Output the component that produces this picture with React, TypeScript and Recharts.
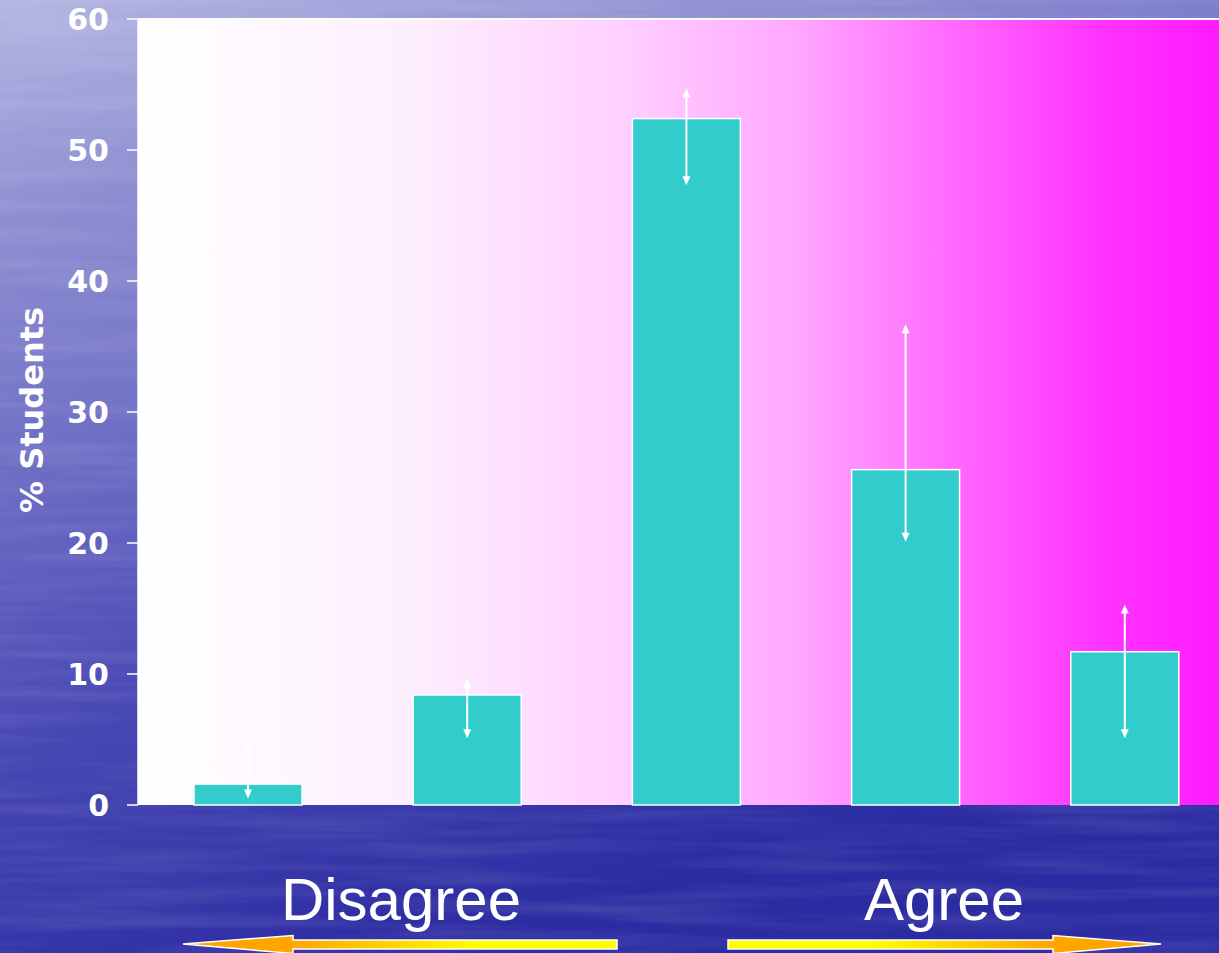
import { BarChart, Bar, XAxis, YAxis, CartesianGrid, ReferenceLine } from "recharts"

// survey responses, strongly disagree -> strongly agree
const categories = ["1", "2", "3", "4", "5"]
const percentStudents = [1.6, 8.4, 52.4, 25.6, 11.7]
const errorLow = [0.5, 5.1, 47.3, 20.1, 5.1]
const errorHigh = [4.8, 9.6, 54.7, 36.7, 15.3]
const yTicks = [0, 10, 20, 30, 40, 50, 60]

const data = categories.map((name, i) => ({
  name,
  value: percentStudents[i],
  low: errorLow[i],
  high: errorHigh[i],
}))

const W = 1219
const H = 953

// bar rect plus a double-headed error arrow, positioned off the bar's own scale
function BarWithError(props: any) {
  const { x, y, width, height, payload } = props
  const zeroY = y + height
  const unit = height / payload.value
  const cx = x + width / 2
  const yHi = zeroY - payload.high * unit
  const yLo = zeroY - payload.low * unit
  const head = 9
  const half = 4
  return (
    <g>
      <rect x={x} y={y} width={width} height={height} fill="#33cccc" stroke="#ffffff" strokeWidth={1.5} />
      <line x1={cx} y1={yHi + head - 1} x2={cx} y2={yLo - head + 1} stroke="#ffffff" strokeWidth={2} />
      <path d={`M${cx},${yHi} L${cx - half},${yHi + head} L${cx + half},${yHi + head} Z`} fill="#ffffff" />
      <path d={`M${cx},${yLo} L${cx - half},${yLo - head} L${cx + half},${yLo - head} Z`} fill="#ffffff" />
    </g>
  )
}

function YLabel(props: any) {
  const { x, y, height } = props.viewBox
  return (
    <text
      transform={`translate(${x + 32}, ${y + height / 2 - 2}) rotate(-90)`}
      textAnchor="middle"
      dominantBaseline="central"
      fill="#ffffff"
      fontFamily="DejaVu Sans, sans-serif"
      fontWeight="bold"
      fontSize={32}
    >
      % Students
    </text>
  )
}

function Backdrop() {
  return (
    <svg width={W} height={H} style={{ position: "absolute", left: 0, top: 0 }}>
      <defs>
        <linearGradient id="sea" x1="0" y1="0" x2="0.35" y2="1">
          <stop offset="0" stopColor="#b4b6e2" />
          <stop offset="0.2" stopColor="#8f90d2" />
          <stop offset="0.45" stopColor="#6c6cc4" />
          <stop offset="0.7" stopColor="#4848b4" />
          <stop offset="1" stopColor="#2c2ca2" />
        </linearGradient>
        <filter id="ripples" x="0" y="0" width="100%" height="100%">
          <feTurbulence type="fractalNoise" baseFrequency="0.004 0.07" numOctaves="3" seed="7" />
          <feColorMatrix type="matrix" values="0 0 0 0 1  0 0 0 0 1  0 0 0 0 1  1.4 0 0 0 -0.55" />
        </filter>
      </defs>
      <rect width={W} height={H} fill="url(#sea)" />
      <rect width={W} height={H} filter="url(#ripples)" opacity={0.14} />
    </svg>
  )
}

function ScaleArrows() {
  return (
    <svg width={W} height={H} style={{ position: "absolute", left: 0, top: 0 }}>
      <defs>
        <linearGradient id="leftArrow" gradientUnits="userSpaceOnUse" x1="290" y1="0" x2="480" y2="0">
          <stop offset="0" stopColor="#ffa500" />
          <stop offset="1" stopColor="#ffff00" />
        </linearGradient>
        <linearGradient id="rightArrow" gradientUnits="userSpaceOnUse" x1="870" y1="0" x2="1055" y2="0">
          <stop offset="0" stopColor="#ffff00" />
          <stop offset="1" stopColor="#ffa500" />
        </linearGradient>
      </defs>
      <text x={401} y={920} textAnchor="middle" fill="#ffffff" fontFamily="Liberation Sans, Arial, sans-serif" fontSize={60}>
        Disagree
      </text>
      <text x={944} y={920} textAnchor="middle" fill="#ffffff" fontFamily="Liberation Sans, Arial, sans-serif" fontSize={60}>
        Agree
      </text>
      <path
        d="M183,944 L293,935.5 L293,940 L617,940 L617,949 L293,949 L293,953.5 Z"
        fill="url(#leftArrow)"
        stroke="#ffffff"
        strokeWidth={1.5}
      />
      <path
        d="M1161,944 L1053,935.5 L1053,940 L728,940 L728,949 L1053,949 L1053,953.5 Z"
        fill="url(#rightArrow)"
        stroke="#ffffff"
        strokeWidth={1.5}
      />
    </svg>
  )
}

export default function App() {
  return (
    <div style={{ position: "fixed", left: 0, top: 0, width: W, height: H, overflow: "hidden" }}>
      <Backdrop />
      <div style={{ position: "absolute", left: 0, top: 0 }}>
        <BarChart width={1234} height={H} data={data} margin={{ top: 19, right: 0, bottom: 148, left: 0 }}>
          <defs>
            <linearGradient id="plotFill" x1="0" y1="0" x2="1" y2="0">
              <stop offset="0" stopColor="#ffffff" />
              <stop offset="0.24" stopColor="#fdf0fe" />
              <stop offset="0.44" stopColor="#ffd0ff" />
              <stop offset="0.6" stopColor="#ffa8ff" />
              <stop offset="0.75" stopColor="#ff66ff" />
              <stop offset="0.88" stopColor="#ff33ff" />
              <stop offset="1" stopColor="#ff18ff" />
            </linearGradient>
          </defs>
          <CartesianGrid fill="url(#plotFill)" stroke="none" horizontal={false} vertical={false} />
          <XAxis dataKey="name" height={0} tick={false} tickLine={false} axisLine={{ stroke: "#ffffff", strokeWidth: 2 }} />
          <YAxis
            width={138}
            domain={[0, 60]}
            ticks={yTicks}
            interval={0}
            tickSize={11}
            tickMargin={18}
            axisLine={{ stroke: "#ffffff", strokeWidth: 1.5 }}
            tickLine={{ stroke: "#ffffff", strokeWidth: 1.5 }}
            tick={{ fill: "#ffffff", fontFamily: "DejaVu Sans, sans-serif", fontWeight: "bold", fontSize: 30 }}
            label={{ content: YLabel }}
          />
          <ReferenceLine y={60} stroke="#ffffff" strokeWidth={2} />
          <Bar dataKey="value" barSize={108} shape={BarWithError} isAnimationActive={false} />
        </BarChart>
      </div>
      <ScaleArrows />
    </div>
  )
}
